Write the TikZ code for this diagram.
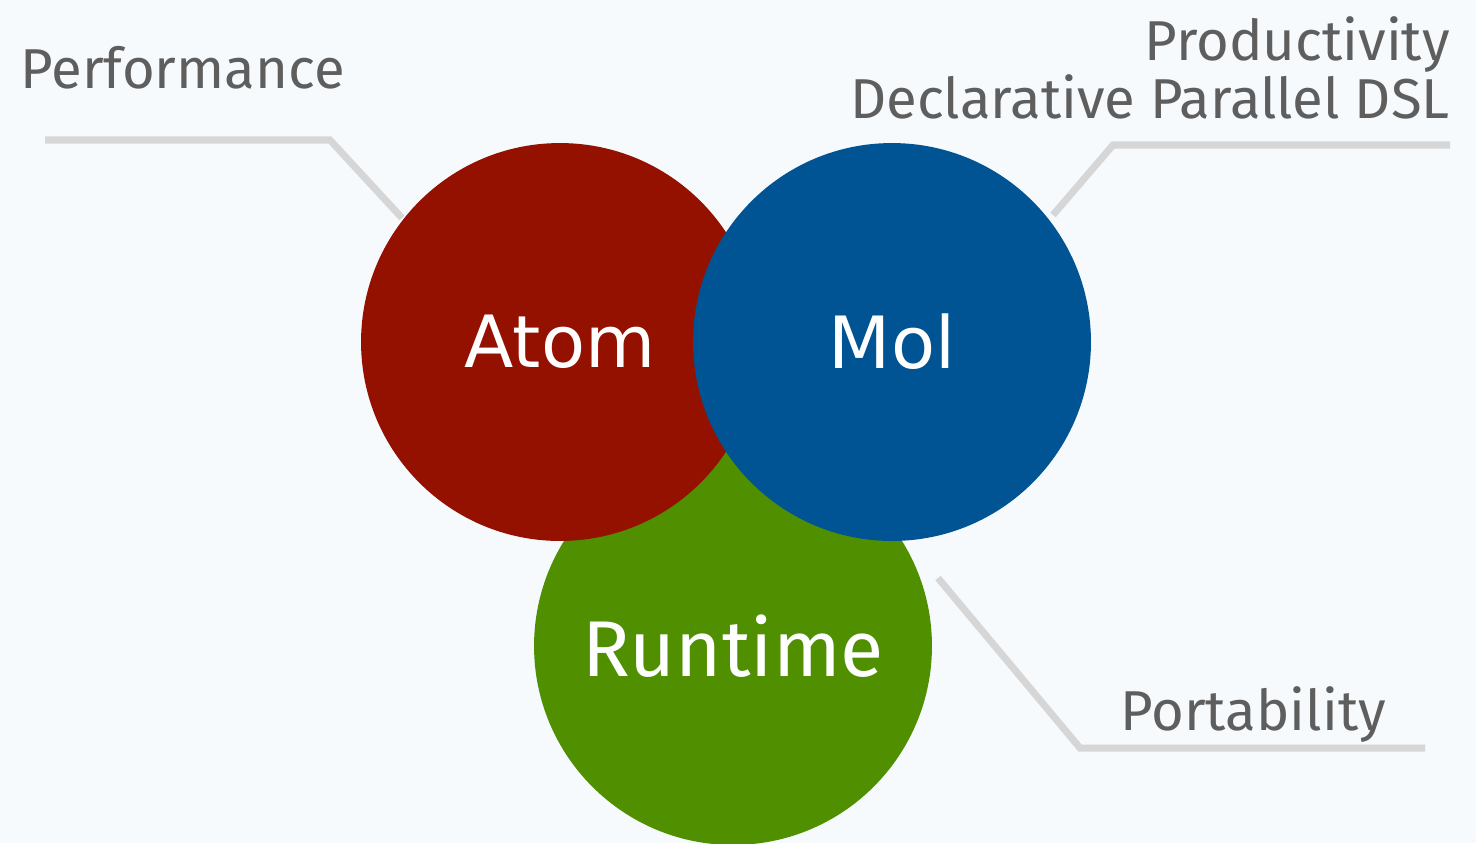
\documentclass[tikz,border=0pt]{standalone}
\usepackage{fontspec}
\setmainfont{Fira Sans}
\newfontfamily\circfont{DejaVu Sans}
\usepackage{tikz}
\usetikzlibrary{positioning}

\definecolor{bgpale}{HTML}{F6FAFD}
\definecolor{atomred}{HTML}{941100}
\definecolor{molblue}{HTML}{005493}
\definecolor{rtgreen}{HTML}{4F8F00}
\definecolor{leadgray}{HTML}{D6D6D6}
\definecolor{labgray}{HTML}{5E5E5E}

\tikzset{
  blob/.style={circle, minimum size=7.96cm, inner sep=0pt, text=white},
  leader/.style={draw=leadgray, line width=4pt},
  aspect/.style={text=labgray, inner sep=0pt, font=\fontsize{32}{38}\selectfont}
}

\begin{document}
\begin{tikzpicture}[x=0.02cm, y=-0.02cm]
    \fill[bgpale] (0,0) rectangle (1476,843);
    \useasboundingbox (0,0) rectangle (1476,843);

    % the three circles, bottom one first
    \node[blob, fill=rtgreen, font=\fontsize{45}{52}\selectfont] (runtime) at (733,646) {Runtime};
    \node[blob, fill=atomred, font=\circfont\fontsize{41}{48}\selectfont] (atom) at (560,342) {Atom};
    \node[blob, fill=molblue, font=\circfont\fontsize{41}{48}\selectfont] (mol) at (892,342) {Mol};

    % labels
    \node[aspect, anchor=base west] (perf) at (20,88) {Performance};
    \node[aspect, anchor=base east] (prod) at (1450,60) {Productivity};
    \node[aspect, anchor=base east] (decl) at (1450,118) {Declarative Parallel DSL};
    \node[aspect, anchor=base west] (port) at (1120,730) {Portability};

    % leader lines
    \coordinate (perf-end) at (45,140);
    \coordinate (perf-knee) at (330,140);
    \coordinate (perf-tip) at (402,218);
    \coordinate (prod-end) at (1450,145);
    \coordinate (prod-knee) at (1113,145);
    \coordinate (prod-tip) at (1053,215);
    \coordinate (port-end) at (1425,748);
    \coordinate (port-knee) at (1080,748);
    \coordinate (port-tip) at (938,578);
    \draw[leader] (perf-end) -- (perf-knee) -- (perf-tip);
    \draw[leader] (prod-end) -- (prod-knee) -- (prod-tip);
    \draw[leader] (port-end) -- (port-knee) -- (port-tip);
\end{tikzpicture}
\end{document}
